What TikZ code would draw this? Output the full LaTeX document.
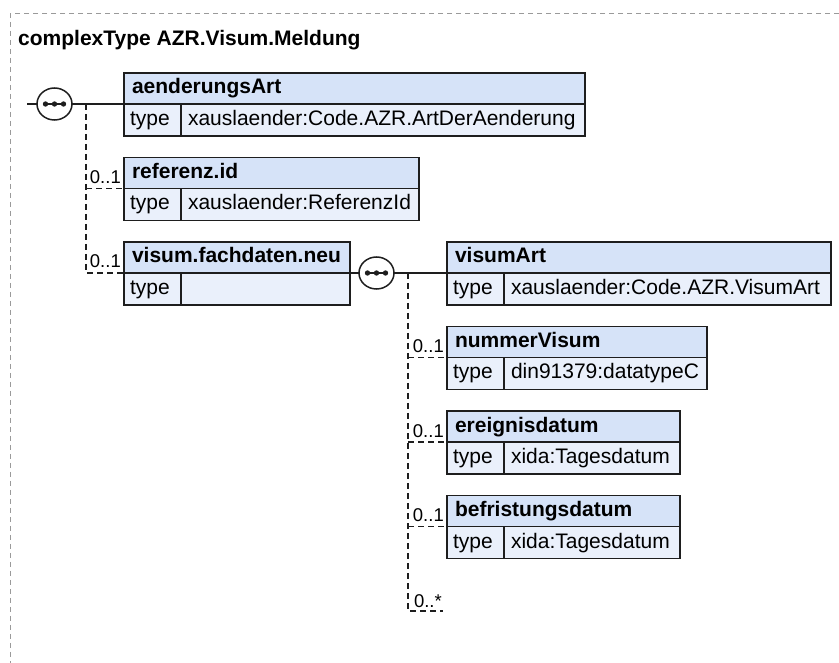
\documentclass[tikz,border=0pt]{standalone}
\usepackage{fontspec}
\setmainfont{Liberation Sans}
\usetikzlibrary{positioning, shapes.geometric, calc}
\definecolor{hdrbg}{HTML}{D6E3F8}
\definecolor{rowbg}{HTML}{EAF0FB}
\definecolor{edge}{HTML}{1E1E1E}
\definecolor{frame}{HTML}{9A9A9A}
\tikzset{
  elhead/.style={draw=edge, line width=1.6pt, fill=hdrbg, anchor=north west,
                 minimum height=31pt, inner xsep=8pt, inner ysep=0pt, outer sep=0pt,
                 text height=15pt, text depth=4pt, align=left,
                 font=\fontsize{21}{25}\selectfont\bfseries},
  eltype/.style={draw=edge, line width=1.6pt, fill=rowbg, anchor=north west,
                 minimum height=32pt, text width=45pt, inner xsep=6pt, inner ysep=0pt,
                 outer sep=0pt, text height=15pt, text depth=4pt, align=left,
                 font=\fontsize{21}{25}\selectfont},
  elval/.style={eltype, inner xsep=7pt},
  seq/.style={ellipse, draw=edge, line width=1.5pt, fill=white, outer sep=0pt,
              minimum width=35pt, minimum height=32pt, inner sep=0pt,
              path picture={
                \draw[edge, line width=1.3pt] ([xshift=-9pt]path picture bounding box.center)
                      -- ([xshift=9pt]path picture bounding box.center);
                \foreach \dx in {-9,0,9}
                  \fill[edge] ([xshift=\dx pt]path picture bounding box.center) circle (2.7pt);
              }},
  link/.style={draw=edge, line width=1.5pt},
  opt/.style={link, dash pattern=on 6pt off 4pt},
  mult/.style={font=\fontsize{18.5}{22}\selectfont, inner sep=0pt, anchor=base east},
}
\begin{document}
\begin{tikzpicture}[x=1pt, y=-1pt]
  \useasboundingbox (0,0) rectangle (839,663);
  \draw[frame, line width=1pt, dash pattern=on 5pt off 4pt] (839,14) -- (10,14) -- (10,663);
  \node[font=\fontsize{21}{25}\selectfont\bfseries, anchor=base west, inner sep=0pt]
        (title) at (18,46) {complexType AZR.Visum.Meldung};

  % outer sequence
  \node[elhead, text width=445pt] (aenderungsArt) at (124,73) {aenderungsArt};
  \node[eltype] (aenderungsArt-t) at (aenderungsArt.south west) {type};
  \node[elval, text width=390pt] (aenderungsArt-v) at (aenderungsArt-t.north east)
        {xauslaender:Code.AZR.ArtDerAenderung};

  \node[elhead, text width=279pt] (referenz) at (124,157.5) {referenz.id};
  \node[eltype] (referenz-t) at (referenz.south west) {type};
  \node[elval, text width=224pt] (referenz-v) at (referenz-t.north east)
        {xauslaender:ReferenzId};

  \node[elhead, text width=210pt] (fachdaten) at (124,242) {visum.fachdaten.neu};
  \node[eltype] (fachdaten-t) at (fachdaten.south west) {type};
  \node[elval, text width=155pt] (fachdaten-v) at (fachdaten-t.north east) {};

  % inner sequence
  \node[elhead, text width=368pt] (visumArt) at (447,242) {visumArt};
  \node[eltype] (visumArt-t) at (visumArt.south west) {type};
  \node[elval, text width=313pt] (visumArt-v) at (visumArt-t.north east)
        {xauslaender:Code.AZR.VisumArt};

  \node[elhead, text width=244pt] (nummerVisum) at (447,326.5) {nummerVisum};
  \node[eltype] (nummerVisum-t) at (nummerVisum.south west) {type};
  \node[elval, text width=189pt] (nummerVisum-v) at (nummerVisum-t.north east)
        {din91379:datatypeC};

  \node[elhead, text width=217pt] (ereignis) at (447,411) {ereignisdatum};
  \node[eltype] (ereignis-t) at (ereignis.south west) {type};
  \node[elval, text width=162pt] (ereignis-v) at (ereignis-t.north east)
        {xida:Tagesdatum};

  \node[elhead, text width=217pt] (befristung) at (447,495.5) {befristungsdatum};
  \node[eltype] (befristung-t) at (befristung.south west) {type};
  \node[elval, text width=162pt] (befristung-v) at (befristung-t.north east)
        {xida:Tagesdatum};

  % compositors
  \node[seq] (seq1) at (54.5,104) {};
  \node[seq] (seq2) at (376.5,273) {};
  \coordinate (in1) at (27,104);
  \coordinate (j1) at ([xshift=14pt]seq1.east);
  \coordinate (j2) at ([xshift=14pt]seq2.east);
  \coordinate (anyend) at (443,611);

  \draw[link] (in1) -- (seq1.west);
  \draw[link] (seq1.east) -- (aenderungsArt.south west);
  \draw[opt] (j1) |- (fachdaten.south west);
  \draw[opt] (j1 |- referenz.south west) -- (referenz.south west);

  \draw[link] (fachdaten.south east) -- (seq2.west);
  \draw[link] (seq2.east) -- (visumArt.south west);
  \draw[opt] (j2) |- (anyend);
  \draw[opt] (j2 |- nummerVisum.south west) -- (nummerVisum.south west);
  \draw[opt] (j2 |- ereignis.south west) -- (ereignis.south west);
  \draw[opt] (j2 |- befristung.south west) -- (befristung.south west);

  % occurrences
  \node[mult] (m-referenz) at ([xshift=-3pt, yshift=5pt]referenz.south west) {0..1};
  \node[mult] (m-fachdaten) at ([xshift=-3pt, yshift=5pt]fachdaten.south west) {0..1};
  \node[mult] (m-nummerVisum) at ([xshift=-3pt, yshift=5pt]nummerVisum.south west) {0..1};
  \node[mult] (m-ereignis) at ([xshift=-3pt, yshift=5pt]ereignis.south west) {0..1};
  \node[mult] (m-befristung) at ([xshift=-3pt, yshift=5pt]befristung.south west) {0..1};
  \node[mult] (m-any) at ([xshift=-1pt, yshift=4pt]anyend) {0..*};
\end{tikzpicture}
\end{document}
